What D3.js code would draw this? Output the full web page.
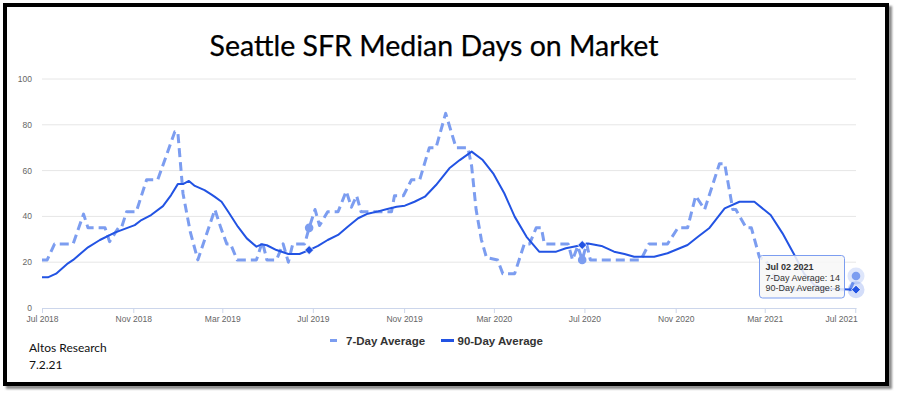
<!DOCTYPE html>
<html><head><meta charset="utf-8">
<script src="https://cdn.jsdelivr.net/npm/d3@7"></script>
<style>
html,body{margin:0;padding:0;background:#fff;}
svg{display:block;}
</style></head><body>
<svg id="chart" width="898" height="395"></svg>
<script>
// ---------------- data ----------------
const titleText = "Seattle SFR Median Days on Market";
const seriesNames = ["7-Day Average", "90-Day Average"];
const notes = ["Altos Research", "7.2.21"];

const dates7 = ["2018-07-01","2018-07-08","2018-07-18","2018-08-12","2018-08-26","2018-09-01","2018-09-24","2018-09-30",
"2018-10-12","2018-10-16","2018-10-23","2018-11-05","2018-11-19","2018-12-04","2018-12-27","2018-12-31",
"2019-01-07","2019-01-17","2019-01-27","2019-02-19","2019-02-27","2019-03-07","2019-03-12","2019-03-21",
"2019-04-16","2019-04-24","2019-04-30","2019-05-13","2019-05-22","2019-05-29","2019-06-04","2019-06-20",
"2019-06-26","2019-07-04","2019-07-10","2019-07-21","2019-08-04","2019-08-15","2019-08-22","2019-08-29",
"2019-09-04","2019-10-15","2019-10-19","2019-10-31","2019-11-11","2019-11-22","2019-12-05","2019-12-14",
"2019-12-27","2020-01-10","2020-01-26","2020-01-31","2020-02-06","2020-02-13","2020-02-20","2020-03-06",
"2020-03-13","2020-03-29","2020-04-11","2020-04-18","2020-04-27","2020-05-04","2020-05-08","2020-06-09",
"2020-06-15","2020-06-22","2020-06-28","2020-07-04","2020-07-09","2020-09-15","2020-09-26","2020-10-21",
"2020-11-04","2020-11-17","2020-11-28","2020-12-10","2020-12-30","2021-01-06","2021-01-17","2021-01-21",
"2021-02-04","2021-02-11","2021-02-22","2021-03-02","2021-03-14","2021-03-28","2021-06-24","2021-07-02"];
const avg7 = [21,21,28,28,41,35,35,29,
35,35,42,42,56,56,77,77,
50,33,21,43,35,28,28,21,
21,29,21,21,28,20,28,28,
35,43,36,42,42,51,44,49,
42,42,49,49,56,56,70,70,
85,70,70,62,43,30,22,21,
15,15,28,28,35,35,28,28,
21,27,21,28,21,21,28,28,
35,35,49,43,63,63,43,43,
35,35,22,21,14,8,8,14];

const dates90 = ["2018-07-01","2018-07-09","2018-07-20","2018-08-05","2018-08-12","2018-09-01","2018-09-17","2018-10-07",
"2018-11-03","2018-11-12","2018-11-25","2018-12-11","2018-12-22","2018-12-31","2019-01-07","2019-01-15",
"2019-01-23","2019-02-05","2019-02-14","2019-02-19","2019-02-28","2019-03-09","2019-03-22","2019-04-03",
"2019-04-16","2019-04-23","2019-04-30","2019-05-13","2019-05-29","2019-06-13","2019-06-26","2019-07-08",
"2019-07-21","2019-08-04","2019-08-17","2019-08-31","2019-09-13","2019-09-27","2019-10-08","2019-10-22",
"2019-11-02","2019-11-15","2019-11-29","2019-12-14","2020-01-01","2020-01-15","2020-01-31","2020-02-15",
"2020-02-29","2020-03-15","2020-03-29","2020-04-14","2020-05-01","2020-05-24","2020-06-06","2020-06-28",
"2020-07-06","2020-07-24","2020-08-10","2020-08-24","2020-09-06","2020-10-03","2020-10-21","2020-11-17",
"2020-12-01","2020-12-16","2021-01-06","2021-01-26","2021-02-15","2021-03-09","2021-03-25","2021-04-10",
"2021-04-23","2021-05-07","2021-05-20","2021-07-02"];
const avg90 = [13.4,13.4,15,19.5,21,26.5,29.7,32.9,
36.2,38.4,40.6,44.5,49.3,54.1,54.1,55.5,
53.3,51.5,49.6,48.5,46.4,42,35.5,30.4,
26.8,27.8,27.4,25.3,23.6,23.6,25.3,27.1,
29.7,31.9,35.5,39.2,41.2,42.2,43.1,44.2,
44.7,46.4,48.6,53.7,61,64.6,68.3,64.6,
58.8,50.1,39.9,31.1,24.6,24.6,26.1,27.5,
28.2,27.1,24.6,23.6,22.4,22.4,23.9,27.5,
31.1,34.8,43.5,46.4,46.4,40.6,32.6,23.1,
15,10,8.5,8];

const tickDates = ["2018-07-01","2018-11-01","2019-03-01","2019-07-01","2019-11-01","2020-03-01",
"2020-07-01","2020-11-01","2021-03-01","2021-07-01"];
const yTicks = [0,20,40,60,80,100];

const markerDates = ["2019-06-26","2020-06-28","2021-07-02"];
const marker7 = [35,21,14];
const marker90 = [25.3,27.5,8];
const tooltipDate = "2021-07-02";
const tooltipValues = [14, 8];

// ---------------- drawing ----------------
const parse = d3.timeParse("%Y-%m-%d");
const c7 = "#7c9df0", c90 = "#2253e3";
const svg = d3.select("#chart");

// frame with shadow
const defs = svg.append("defs");
defs.append("filter").attr("id","blur").append("feGaussianBlur").attr("stdDeviation",1.3);
svg.append("rect").attr("x",8).attr("y",8).attr("width",882).attr("height",379)
  .attr("fill","none").attr("stroke","#8a8a8a").attr("stroke-width",4).attr("filter","url(#blur)");
svg.append("rect").attr("x",5).attr("y",5).attr("width",882).attr("height",379)
  .attr("fill","#fff").attr("stroke","#000").attr("stroke-width",4);

// title
svg.append("text").attr("x",434).attr("y",56).attr("text-anchor","middle")
  .attr("font-family","Lato, 'Open Sans', sans-serif").attr("font-size",28.5).attr("fill","#000")
  .attr("stroke","#000").attr("stroke-width",0.25)
  .text(titleText);

const x = d3.scaleTime().domain([parse("2018-07-01"), parse("2021-07-02")]).range([42, 856]);
const y = d3.scaleLinear().domain([0,100]).range([308, 79]);

// gridlines
svg.append("g").selectAll("line").data(yTicks.filter(t=>t>0)).join("line")
  .attr("x1",42).attr("x2",856).attr("y1",d=>y(d)).attr("y2",d=>y(d))
  .attr("stroke","#e6e6e6").attr("stroke-width",1);

// y labels
svg.append("g").selectAll("text").data(yTicks).join("text")
  .attr("x",32).attr("y",d=>y(d)).attr("dy","0.35em").attr("text-anchor","end")
  .attr("font-family","'Liberation Sans', Arial, sans-serif").attr("font-size",8.5).attr("fill","#666")
  .text(d=>d);

// x axis
const xAxis = svg.append("g").attr("transform","translate(0,308)")
  .call(d3.axisBottom(x).tickValues(tickDates.map(parse)).tickFormat(d3.timeFormat("%b %Y")).tickSize(5).tickSizeOuter(0).tickPadding(3));
xAxis.select(".domain").attr("stroke","#ccd6eb");
xAxis.selectAll(".tick line").attr("stroke","#ccd6eb");
xAxis.selectAll(".tick text").attr("font-family","'Liberation Sans', Arial, sans-serif").attr("font-size",8.5).attr("fill","#666");
xAxis.selectAll(".tick text").filter((d,i,n)=>i===n.length-1).attr("text-anchor","end").attr("x",2);

// lines
const line = d3.line().x(d=>x(d.date)).y(d=>y(d.v));
const data7 = dates7.map((d,i)=>({date:parse(d), v:avg7[i]}));
const data90 = dates90.map((d,i)=>({date:parse(d), v:avg90[i]}));

svg.append("path").datum(data7).attr("d",line).attr("fill","none").attr("stroke",c7)
  .attr("stroke-width",3).attr("stroke-dasharray","9,5").attr("stroke-linejoin","round");
svg.append("path").datum(data90).attr("d",line).attr("fill","none").attr("stroke",c90)
  .attr("stroke-width",2).attr("stroke-linejoin","round");

// markers
const diamond = (cx,cy,r)=>`M${cx},${cy-r}L${cx+r},${cy}L${cx},${cy+r}L${cx-r},${cy}Z`;
const mk = markerDates.map((d,i)=>({date:parse(d), v7:marker7[i], v90:marker90[i], hover: d===tooltipDate}));
const mg = svg.append("g");
mk.filter(d=>d.hover).forEach(d=>{
  mg.append("circle").attr("cx",x(d.date)).attr("cy",y(d.v7)).attr("r",8.5).attr("fill",c7).attr("opacity",0.25);
  mg.append("circle").attr("cx",x(d.date)).attr("cy",y(d.v90)).attr("r",8.5).attr("fill",c90).attr("opacity",0.2);
});
mk.forEach(d=>{
  mg.append("circle").attr("cx",x(d.date)).attr("cy",y(d.v7)).attr("r",4.3).attr("fill",c7);
  mg.append("path").attr("d",diamond(x(d.date),y(d.v90),4.5)).attr("fill",c90).attr("stroke","#fff").attr("stroke-width",0.8);
});

// tooltip
const tt = svg.append("g").attr("transform","translate(759.5,255.5)");
tt.append("rect").attr("width",85).attr("height",42.5).attr("rx",3)
  .attr("fill","rgba(247,247,247,0.85)").attr("stroke",c7).attr("stroke-width",1);
const ttFont = "'Liberation Sans', Arial, sans-serif";
tt.append("text").attr("x",6).attr("y",14).attr("font-family",ttFont).attr("font-size",9)
  .attr("font-weight","bold").attr("fill","#333").text(d3.timeFormat("%b %d %Y")(parse(tooltipDate)));
tt.append("text").attr("x",6).attr("y",25).attr("font-family",ttFont).attr("font-size",9)
  .attr("fill","#333").text(`${seriesNames[0]}: ${tooltipValues[0]}`);
tt.append("text").attr("x",6).attr("y",35.5).attr("font-family",ttFont).attr("font-size",9)
  .attr("fill","#333").text(`${seriesNames[1]}: ${tooltipValues[1]}`);

// legend
const lg = svg.append("g").attr("font-family","'Liberation Sans', Arial, sans-serif")
  .attr("font-size",11.5).attr("font-weight","bold").attr("fill","#333");
lg.append("line").attr("x1",330).attr("x2",337).attr("y1",340.5).attr("y2",340.5).attr("stroke",c7).attr("stroke-width",3);
lg.append("text").attr("x",346).attr("y",344.5).text(seriesNames[0]);
lg.append("line").attr("x1",441).attr("x2",454).attr("y1",340.5).attr("y2",340.5).attr("stroke",c90).attr("stroke-width",3);
lg.append("text").attr("x",457.5).attr("y",344.5).text(seriesNames[1]);

// notes
svg.append("g").selectAll("text").data(notes).join("text")
  .attr("x",29).attr("y",(d,i)=>351.5+i*17)
  .attr("font-family","Lato, 'Open Sans', sans-serif").attr("font-size",12).attr("fill","#111")
  .text(d=>d);
</script>
</body></html>
